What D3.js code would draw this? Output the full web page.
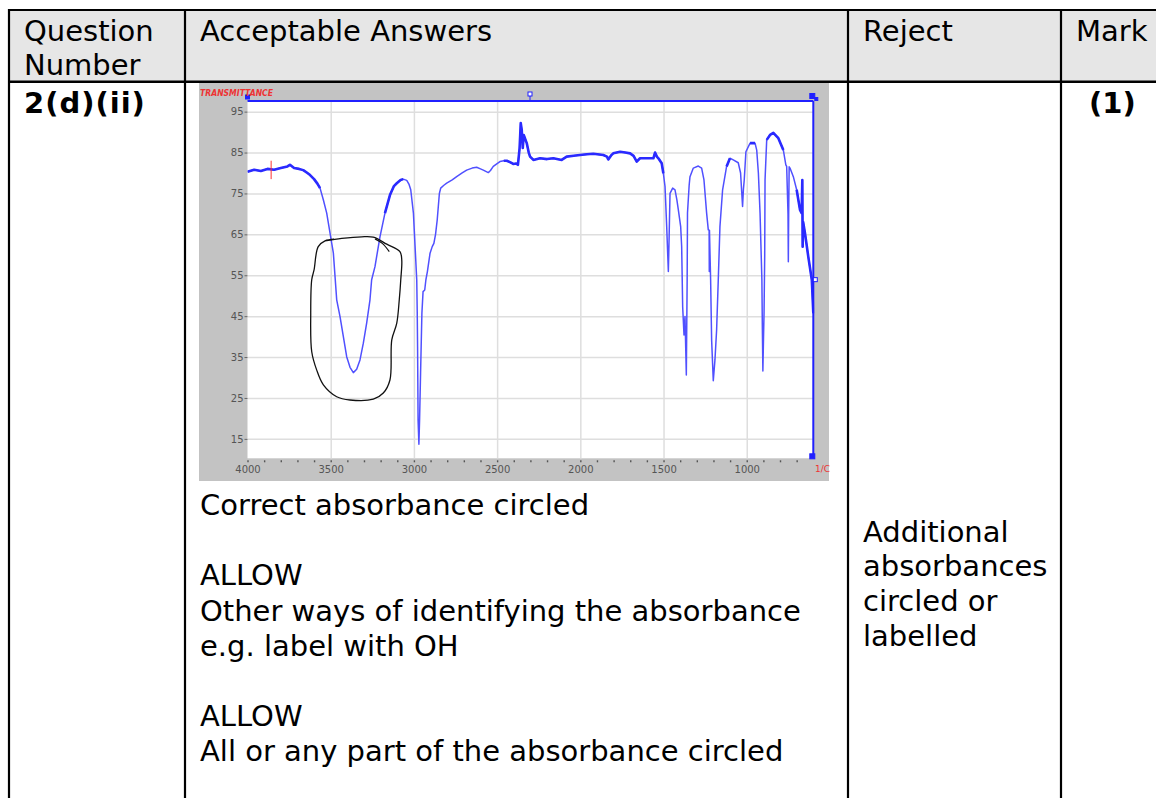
<!DOCTYPE html>
<html>
<head>
<meta charset="utf-8">
<script src="https://cdn.jsdelivr.net/npm/d3@7"></script>
<style>
  html, body { margin: 0; padding: 0; background: #fff; }
  svg { display: block; }
  text { font-family: "DejaVu Sans", Verdana, sans-serif; }
</style>
</head>
<body>
<svg id="page" width="1156" height="798"></svg>
<script>
// table text
const headerLines = [["Question", "Number"], ["Acceptable Answers"], ["Reject"], ["Mark"]];
const questionLabel = "2(d)(ii)";
const markLabel = "(1)";
const answerLines = ["Correct absorbance circled", "", "ALLOW", "Other ways of identifying the absorbance",
    "e.g. label with OH", "", "ALLOW", "All or any part of the absorbance circled"];
const rejectLines = ["Additional", "absorbances", "circled or", "labelled"];

// IR spectrum (wavenumber / cm-1, transmittance / %)
const wavenumber = [4000, 3960, 3920, 3880, 3840, 3800, 3760, 3745, 3720, 3690, 3665, 3640, 3624, 3600, 3580, 3564,
    3544, 3524, 3504, 3484, 3464, 3444, 3424, 3404, 3384, 3364, 3344, 3324, 3304, 3284, 3264, 3254, 3234, 3204,
    3174, 3144, 3120, 3103, 3080, 3064, 3043, 3030, 3019, 3003, 2993, 2983, 2980, 2978, 2975, 2970, 2966, 2960,
    2952, 2945, 2935, 2928, 2919, 2903, 2890, 2880, 2870, 2860, 2847, 2839, 2820, 2803, 2770, 2743, 2710, 2683,
    2650, 2623, 2600, 2583, 2553, 2540, 2523, 2500, 2483, 2460, 2442, 2420, 2403, 2385, 2375, 2365, 2358, 2352,
    2346, 2340, 2322, 2310, 2302, 2282, 2242, 2200, 2162, 2112, 2082, 2040, 2002, 1960, 1922, 1862, 1840, 1832,
    1815, 1802, 1761, 1730, 1701, 1680, 1661, 1641, 1600, 1561, 1551, 1540, 1531, 1511, 1501, 1491, 1481, 1471,
    1466, 1461, 1445, 1431, 1420, 1411, 1397, 1391, 1385, 1377, 1371, 1363, 1358, 1356, 1346, 1341, 1321, 1291,
    1271, 1257, 1241, 1231, 1226, 1225, 1224, 1217, 1211, 1201, 1191, 1181, 1171, 1161, 1145, 1121, 1101, 1081,
    1051, 1037, 1025, 1020, 1015, 1005, 980, 950, 940, 930, 920, 909, 906, 903, 899, 896, 892, 890, 880, 860,
    840, 810, 780, 765, 760, 752, 750, 748, 745, 740, 720, 700, 680, 670, 666, 664, 661, 650, 630, 609, 600];
const transmittance = [80.3, 80.8, 80.5, 81.0, 80.8, 81.2, 81.6, 82.0, 81.2, 81.0, 80.7, 80.0, 79.5, 78.5, 77.4, 76.3,
    73.4, 70.2, 65.3, 60.4, 49.0, 44.9, 40.0, 35.1, 32.5, 31.2, 32.0, 34.3, 38.4, 43.3, 49.0, 53.9, 57.1, 64.4,
    70.2, 74.6, 76.8, 77.5, 78.3, 78.5, 78.2, 77.3, 75.9, 70.2, 62.0, 53.9, 45.7, 37.5, 19.6, 13.7, 19.6, 31.0,
    45.7, 51.0, 51.4, 53.9, 55.9, 60.4, 62.0, 62.8, 65.0, 68.5, 75.0, 76.3, 77.0, 77.5, 78.3, 79.1, 80.0, 80.7,
    81.2, 81.4, 81.0, 80.7, 80.1, 80.6, 81.6, 82.3, 82.8, 83.0, 83.0, 82.6, 82.2, 82.3, 82.0, 86.0, 92.2, 90.5,
    86.1, 89.3, 87.3, 85.0, 84.0, 83.2, 83.6, 83.4, 83.6, 83.2, 84.0, 84.2, 84.4, 84.6, 84.7, 84.4, 84.0, 83.3,
    84.3, 84.8, 85.2, 85.0, 84.8, 84.2, 82.8, 83.6, 83.6, 83.6, 85.0, 84.0, 83.6, 82.4, 79.9, 76.7, 66.9, 55.9,
    65.0, 75.0, 76.3, 75.9, 73.5, 71.0, 66.9, 62.0, 47.3, 40.4, 44.9, 30.6, 53.9, 70.2, 77.0, 79.1, 81.2, 81.7,
    81.2, 78.3, 70.2, 66.1, 66.0, 55.9, 66.0, 53.9, 39.2, 29.2, 34.3, 41.6, 53.9, 66.9, 75.9, 81.6, 83.6, 83.2,
    82.5, 80.0, 71.8, 76.0, 78.3, 85.2, 87.3, 87.3, 85.6, 80.0, 70.2, 53.9, 41.6, 31.6, 40.0, 45.7, 60.0, 78.3,
    88.1, 89.3, 89.8, 88.5, 85.6, 82.0, 81.6, 70.0, 58.3, 70.0, 81.5, 81.2, 79.1, 75.9, 71.0, 70.2, 78.3, 62.0,
    68.0, 65.3, 59.5, 53.9, 45.7];
// stretches of the scan where the trace is noisy and looks thick
const noisyRanges = [[4000, 3560], [3200, 3050], [2480, 1500], [1130, 1090], [1000, 945], [885, 780], [700, 600]];
const xTickValues = [4000, 3500, 3000, 2500, 2000, 1500, 1000];
const yTickValues = [15, 25, 35, 45, 55, 65, 75, 85, 95];

// hand-drawn ring round the O-H band
const ringWavenumber = [3534, 3434, 3314, 3244, 3163, 3084, 3073, 3079, 3088, 3103, 3133, 3144, 3184, 3244,
    3384, 3464, 3544, 3584, 3614, 3620, 3614, 3600, 3575, 3534, 3480];
const ringTransmittance = [63.4, 64.0, 64.4, 64.3, 62.6, 60.8, 58.7, 53.9, 49.0, 43.3, 39.2, 29.4, 26.2, 24.7,
    24.5, 25.3, 28.2, 31.8, 36.3, 45.7, 53.9, 56.3, 62.0, 63.4, 63.8];
const ringTailWavenumber = [3234, 3190, 3148];
const ringTailTransmittance = [63.9, 62.8, 60.8];

// red cursor mark
const cursorWavenumber = 3858;
const cursorTransmittance = [78.5, 83.0];

const svg = d3.select("#page");
const fontSize = 29;
const lineGap = 35.2;
const colX = [9, 185, 848, 1061];

// header band
svg.append("rect").attr("x", 10).attr("y", 11).attr("width", 1146).attr("height", 70).attr("fill", "#e6e6e6");

// table rules
svg.append("line").attr("x1", 8).attr("x2", 1156).attr("y1", 10).attr("y2", 10)
    .attr("stroke", "#000").attr("stroke-width", 2.2);
svg.append("line").attr("x1", 8).attr("x2", 1156).attr("y1", 81.8).attr("y2", 81.8)
    .attr("stroke", "#000").attr("stroke-width", 2.4);
svg.selectAll("line.col").data(colX).enter().append("line")
    .attr("class", "col")
    .attr("x1", d => d).attr("x2", d => d).attr("y1", 9).attr("y2", 798)
    .attr("stroke", "#000").attr("stroke-width", 2.2);

// header text
headerLines.forEach((lines, i) => {
    svg.append("g").selectAll("text").data(lines).enter().append("text")
        .attr("x", colX[i] + 15)
        .attr("y", (d, j) => 41 + j * 34)
        .attr("font-size", fontSize)
        .attr("fill", "#000")
        .text(d => d);
});

svg.append("text").attr("x", 24).attr("y", 113).attr("font-size", fontSize)
    .attr("font-weight", "bold").attr("letter-spacing", 1).text(questionLabel);
svg.append("text").attr("x", 1089).attr("y", 113).attr("font-size", fontSize)
    .attr("font-weight", "bold").text(markLabel);

svg.append("g").selectAll("text").data(answerLines).enter().append("text")
    .attr("x", 200).attr("y", (d, i) => 515 + i * lineGap)
    .attr("font-size", fontSize).text(d => d);

svg.append("g").selectAll("text").data(rejectLines).enter().append("text")
    .attr("x", 863).attr("y", (d, i) => 541.7 + i * 34.7)
    .attr("font-size", fontSize).text(d => d);

// ---- spectrum picture ----
const chart = svg.append("g");
chart.append("rect").attr("x", 199).attr("y", 83).attr("width", 630).attr("height", 398).attr("fill", "#c3c3c3");

const x = d3.scaleLinear().domain([4000, 600]).range([247.5, 813.3]);
const y = d3.scaleLinear().domain([10.25, 97.6]).range([458.3, 101]);
const [x0, x1] = x.range();
const [yBottom, yTop] = y.range();

chart.append("rect").attr("x", x0).attr("y", yTop).attr("width", x1 - x0).attr("height", yBottom - yTop)
    .attr("fill", "#fff");

// grid
chart.append("g").attr("transform", `translate(${x0},0)`)
    .call(d3.axisLeft(y).tickValues(yTickValues).tickSize(-(x1 - x0)).tickFormat(""))
    .call(g => g.select(".domain").remove())
    .call(g => g.selectAll("line").attr("stroke", "#dedede").attr("stroke-width", 1.5));
chart.append("g").attr("transform", `translate(0,${yBottom})`)
    .call(d3.axisBottom(x).tickValues(xTickValues.slice(1)).tickSize(-(yBottom - yTop)).tickFormat(""))
    .call(g => g.select(".domain").remove())
    .call(g => g.selectAll("line").attr("stroke", "#dedede").attr("stroke-width", 1.5));

// y axis labels
chart.append("g").attr("transform", `translate(${x0},0)`)
    .call(d3.axisLeft(y).tickValues(yTickValues).tickSize(3).tickPadding(1))
    .call(g => g.select(".domain").remove())
    .call(g => g.selectAll("line").attr("stroke", "#666"))
    .call(g => g.selectAll("text").attr("font-size", 10).attr("fill", "#555")
        .attr("font-family", "DejaVu Sans"));

// x axis minor ticks and labels
chart.append("g").attr("transform", `translate(0,${yBottom + 2})`)
    .call(d3.axisBottom(x).tickValues(d3.range(4000, 600, -100)).tickSize(2).tickFormat(""))
    .call(g => g.select(".domain").remove())
    .call(g => g.selectAll("line").attr("stroke", "#555").attr("stroke-width", 1.4));
chart.append("g").attr("transform", `translate(0,${yBottom + 5})`)
    .call(d3.axisBottom(x).tickValues(xTickValues).tickSize(0).tickPadding(3).tickFormat(d3.format("d")))
    .call(g => g.select(".domain").remove())
    .call(g => g.selectAll("text").attr("font-size", 10).attr("fill", "#555")
        .attr("font-family", "DejaVu Sans"));

// clip
chart.append("clipPath").attr("id", "plotClip").append("rect")
    .attr("x", x0).attr("y", yTop - 1).attr("width", x1 - x0 + 1).attr("height", yBottom - yTop + 1);

const spectrum = wavenumber.map((w, i) => [w, transmittance[i]]);
const spectrumLine = d3.line().x(d => x(d[0])).y(d => y(d[1]));
chart.append("path")
    .datum(spectrum)
    .attr("clip-path", "url(#plotClip)")
    .attr("fill", "none")
    .attr("stroke", "#5050ff")
    .attr("stroke-width", 1.5)
    .attr("stroke-linejoin", "round")
    .attr("d", spectrumLine);

// thicker overlay where the trace is noisy
const isNoisy = w => noisyRanges.some(r => w <= r[0] && w >= r[1]);
chart.append("path")
    .datum(spectrum)
    .attr("clip-path", "url(#plotClip)")
    .attr("fill", "none")
    .attr("stroke", "#2a2aff")
    .attr("stroke-width", 2.6)
    .attr("stroke-linejoin", "round")
    .attr("d", spectrumLine.defined(d => isNoisy(d[0])));

// red cursor
chart.append("line")
    .attr("x1", x(cursorWavenumber)).attr("x2", x(cursorWavenumber))
    .attr("y1", y(cursorTransmittance[0])).attr("y2", y(cursorTransmittance[1]))
    .attr("stroke", "#ff3030").attr("stroke-width", 1);

// blue frame of the viewer
chart.append("line").attr("x1", x0).attr("x2", x1).attr("y1", yTop).attr("y2", yTop)
    .attr("stroke", "#2020ff").attr("stroke-width", 2);
chart.append("line").attr("x1", x1).attr("x2", x1).attr("y1", yTop).attr("y2", yBottom)
    .attr("stroke", "#2020ff").attr("stroke-width", 2);
const handles = [[x0, yTop - 4, 4, true], [x1 - 1, yTop - 5, 5, true], [x1 + 3, yTop - 2, 3, true],
    [x1 - 1, yBottom - 2, 5, true], [x1 + 2, (yTop + yBottom) / 2, 4, false], [530, yTop - 7, 4, false]];
chart.selectAll("rect.handle").data(handles).enter().append("rect")
    .attr("class", "handle")
    .attr("x", d => d[0] - d[2] / 2).attr("y", d => d[1] - d[2] / 2)
    .attr("width", d => d[2]).attr("height", d => d[2])
    .attr("fill", d => d[3] ? "#2020ff" : "#fff")
    .attr("stroke", "#2020ff").attr("stroke-width", 1);
chart.append("line").attr("x1", 530).attr("x2", 530).attr("y1", yTop - 5).attr("y2", yTop)
    .attr("stroke", "#2020ff");

chart.append("text").attr("x", 200).attr("y", 96).attr("font-size", 8).attr("font-weight", "bold")
    .attr("font-style", "italic").attr("fill", "#ee3333")
    .attr("textLength", 73).attr("lengthAdjust", "spacingAndGlyphs").text("TRANSMITTANCE");
chart.append("text").attr("x", 815).attr("y", 472).attr("font-size", 9).attr("fill", "#ee3333").text("1/C");

// hand-drawn ring
const ringLine = d3.line().x(d => x(d[0])).y(d => y(d[1])).curve(d3.curveCatmullRom);
chart.append("path")
    .datum(ringWavenumber.map((w, i) => [w, ringTransmittance[i]]))
    .attr("fill", "none").attr("stroke", "#111").attr("stroke-width", 1.3)
    .attr("d", ringLine);
chart.append("path")
    .datum(ringTailWavenumber.map((w, i) => [w, ringTailTransmittance[i]]))
    .attr("fill", "none").attr("stroke", "#111").attr("stroke-width", 1.2)
    .attr("d", ringLine);
</script>
</body>
</html>
